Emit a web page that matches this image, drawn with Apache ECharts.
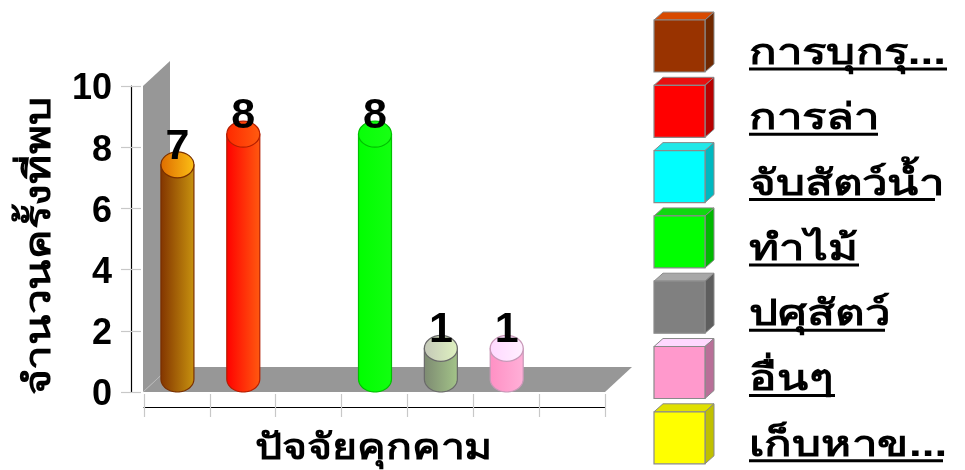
<!DOCTYPE html>
<html><head><meta charset="utf-8">
<style>html,body{margin:0;padding:0;background:#fff}#c{width:965px;height:470px}</style>
<script src="https://cdn.jsdelivr.net/npm/echarts@6/dist/echarts.min.js"></script>
</head><body><div id="c"></div>
<script>
const categories = ['การบุกรุก','การล่า','จับสัตว์น้ำ','ทำไม้','ปศุสัตว์','อื่นๆ','เก็บหาของป่า'];
const legendLabels = ['การบุกรุ...','การล่า','จับสัตว์น้ำ','ทำไม้','ปศุสัตว์','อื่นๆ','เก็บหาข...'];
const values = [7,8,0,8,1,1,0];
const yName = 'จำนวนครั้งที่พบ';
const xName = 'ปัจจัยคุกคาม';
const bodyColors = [['#823400','#c8930f'],['#ff0000','#ff5a10'],['#00ffff','#00ffff'],['#00ff00','#12ff10'],['#7d8a72','#a3c488'],['#ff90c4','#ffb0d8'],['#ffff00','#ffff00']];
const topColors = [['#de6c00','#fcc015'],['#ff2800','#ff5c10'],['#80ffff','#80ffff'],['#08ff08','#18ff14'],['#c4c8b8','#dff2c0'],['#ffd8ff','#fff0ff'],['#ffff80','#ffff80']];
const edgeColors = ['#7a3000','#b51e00','#00bbbb','#00c000','#6a6a6a','#c898b8','#aaaa00'];
const boxFront = ['#993300','#ff0000','#00ffff','#00ff00','#808080','#ff99cc','#ffff00'];
const boxTop = ['#d84a00','#e81010','#20e8e8','#10d810','#a8a8a8','#ffd8ff','#e0e000'];
const boxSide = ['#702800','#b80000','#00b8c0','#00b800','#5e5e5e','#b87098','#c0c000'];
const underlineW = [198,129,186,110,136,86,194];

const FONT = '"Liberation Sans", Arial, sans-serif';
const depthX = 27, depthY = 25;

function grad(c){return new echarts.graphic.LinearGradient(0,0,1,0,[{offset:0,color:c[0]},{offset:1,color:c[1]}]);}

function renderBase(params, api){
  const p0 = api.coord([0,0]), band = api.size([1,0])[0];
  const x0 = p0[0]-band/2-1, y0 = p0[1];
  const x1 = x0 + band*categories.length+1;
  const yTop = api.coord([0,10])[1];
  return {type:'group',silent:true,children:[
    {type:'polygon',shape:{points:[[x0,y0],[x0,yTop],[x0+depthX,yTop-depthY],[x0+depthX,y0-depthY]]},style:{fill:'#979797'}},
    {type:'polygon',shape:{points:[[x0,y0],[x1,y0],[x1+depthX,y0-depthY],[x0+depthX,y0-depthY]]},style:{fill:'#979797'}},
    {type:'line',shape:{x1:x0,y1:y0,x2:x0+depthX,y2:y0-depthY},style:{stroke:'#b8b8b8',lineWidth:1}}
  ]};
}

function renderCyl(params, api){
  const i = api.value(0), v = api.value(1);
  if(!v) return {type:'group',children:[]};
  const p = api.coord([i,v]), b = api.coord([i,0]);
  const rx = 16.5, ry = 13, cx = p[0]+0.5, cyTop = p[1]-ry, cyBot = b[1]-ry;
  const pts = [[cx-rx,cyTop]];
  for(let k=0;k<=32;k++){const t=Math.PI*(1-k/32);pts.push([cx+rx*Math.cos(t),cyBot+ry*Math.sin(t)]);}
  pts.push([cx+rx,cyTop]);
  return {type:'group',children:[
    {type:'polygon',shape:{points:pts},style:{fill:grad(bodyColors[i]),stroke:edgeColors[i],lineWidth:1.2}},
    {type:'ellipse',shape:{cx:cx,cy:cyTop,rx:rx,ry:ry},style:{fill:grad(topColors[i]),stroke:edgeColors[i],lineWidth:1.2}},
    {type:'text',style:{text:String(v),x:cx,y:p[1]-31,align:'center',verticalAlign:'middle',font:'bold 43px '+FONT,fill:'#000'}}
  ]};
}

const graphics = [];
legendLabels.forEach(function(name,i){
  const top = 20 + i*65.3, l = 654, w = 51, h = 52, dx = 9, dy = 8;
  const stroke = '#8a8a8a';
  graphics.push(
    {type:'polygon',shape:{points:[[l,top],[l+dx,top-dy],[l+w+dx,top-dy],[l+w,top]]},style:{fill:boxTop[i],stroke:stroke,lineWidth:1}},
    {type:'polygon',shape:{points:[[l+w,top],[l+w+dx,top-dy],[l+w+dx,top+h-dy],[l+w,top+h]]},style:{fill:boxSide[i],stroke:stroke,lineWidth:1}},
    {type:'rect',shape:{x:l,y:top,width:w,height:h},style:{fill:boxFront[i],stroke:stroke,lineWidth:1.2}},
    {type:'text',x:749,y:top+52,scaleX:1.27,scaleY:1,style:{text:name,x:0,y:0,verticalAlign:'bottom',align:'left',font:'bold 36px '+FONT,fill:'#000'}},
    {type:'rect',shape:{x:749,y:top+47.5,width:underlineW[i],height:3},style:{fill:'#000'}}
  );
});
graphics.push(
  {type:'text',x:374,y:449,scaleX:1.19,scaleY:1,style:{text:xName,x:0,y:0,align:'center',verticalAlign:'middle',font:'bold 36px '+FONT,fill:'#000'}},
  {type:'text',x:40,y:246,rotation:Math.PI/2,scaleX:1.23,scaleY:1,style:{text:yName,x:0,y:0,align:'center',verticalAlign:'middle',font:'bold 36px '+FONT,fill:'#000'}}
);

const chart = echarts.init(document.getElementById('c'),null,{renderer:'canvas'});
chart.setOption({
  animation:false,
  backgroundColor:'#fff',
  grid:{left:144,top:86,width:461,height:306,containLabel:false,outerBoundsMode:'none'},
  xAxis:[
   {type:'category',data:categories,position:'bottom',offset:15,
    axisLine:{show:true,onZero:false,lineStyle:{color:'#000',width:1.2}},
    axisTick:{show:true,interval:0,length:10,lineStyle:{color:'#c8c8c8',width:1.2}},
    axisLabel:{show:false,interval:0},splitLine:{show:false}},
   {type:'category',data:categories,position:'bottom',offset:15,
    axisLine:{show:false,onZero:false},axisTick:{show:true,interval:0,inside:true,length:13,lineStyle:{color:'#c8c8c8',width:1.2}},
    axisLabel:{show:false,interval:0},splitLine:{show:false}}
  ],
  yAxis:[
   {type:'value',min:0,max:10,interval:2,position:'left',offset:13,
    axisLine:{show:true,onZero:false,lineStyle:{color:'#000',width:1.2}},
    axisTick:{show:true,length:10,lineStyle:{color:'#c8c8c8',width:1.2}},
    axisLabel:{margin:19,formatter:'{a|{value}}',rich:{a:{padding:[7,0,0,0],fontFamily:FONT,fontWeight:'bold',fontSize:36,color:'#000'}}},
    splitLine:{show:false}},
   {type:'value',min:0,max:10,interval:2,position:'left',offset:13,
    axisLine:{show:false,onZero:false},axisTick:{show:true,inside:true,length:10,lineStyle:{color:'#c8c8c8',width:1.2}},
    axisLabel:{show:false},splitLine:{show:false}}
  ],
  series:[
   {type:'custom',name:'base',clip:false,z:1,silent:true,renderItem:renderBase,data:[[0,0]],encode:{x:0,y:1}},
   {type:'custom',name:'values',clip:false,z:2,renderItem:renderCyl,data:values.map(function(v,i){return [i,v];}),encode:{x:0,y:1}}
  ],
  graphic:graphics
});
</script></body></html>
